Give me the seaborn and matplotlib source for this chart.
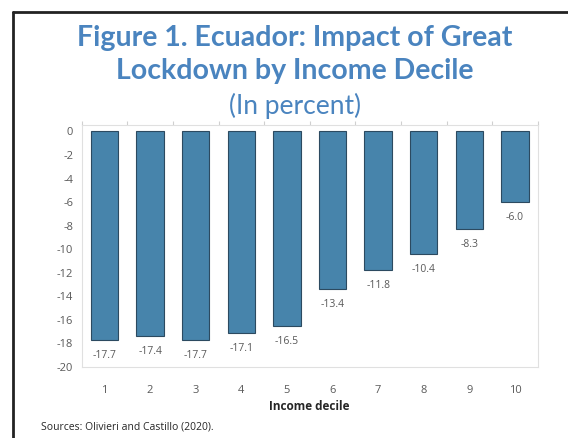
import numpy as np
import pandas as pd
import seaborn as sns
import matplotlib.pyplot as plt
from matplotlib.lines import Line2D

deciles = ["1", "2", "3", "4", "5", "6", "7", "8", "9", "10"]
impact = [-17.7, -17.4, -17.7, -17.1, -16.5, -13.4, -11.8, -10.4, -8.3, -6.0]
yticks = list(range(0, -21, -2))

title_color = "#4a84bf"
bar_color = "#4784ab"
text_gray = "#595959"

sns.set_style("white")
plt.rcParams['font.family'] = ['Open Sans', 'DejaVu Sans']

df = pd.DataFrame({"decile": deciles, "impact": impact})

fig = plt.figure(figsize=(5.68, 4.38), dpi=100)
ax = fig.add_axes([0.1438, 0.1628, 0.803, 0.5518])

sns.barplot(data=df, x="decile", y="impact", order=deciles, color=bar_color,
            width=0.6, saturation=1, edgecolor="#2c4a60", linewidth=0.8, ax=ax)

for i, v in enumerate(impact):
    ax.text(i, v - 0.85, "{:.1f}".format(v), ha="center", va="top",
            fontsize=7.5, color=text_gray)

ax.set_ylim(-20, 0.55)
ax.set_xlim(-0.5, 9.5)
ax.set_yticks(yticks)
ax.set_yticklabels([str(t) for t in yticks])
ax.set_xticks(np.arange(-0.5, 10, 1), minor=True)
ax.tick_params(axis="both", which="major", length=0, labelsize=8, labelcolor=text_gray)
ax.tick_params(axis="y", pad=6)
ax.tick_params(axis="x", pad=13)
ax.tick_params(axis="x", which="minor", bottom=False, top=True, direction="out",
               length=3, color="#d0d0d0", width=0.8)
for s in ax.spines.values():
    s.set_color("#e0e0e0")
    s.set_linewidth(0.8)

ax.set_xlabel("Income decile", fontsize=8.5, fontweight="bold", color="#262626", labelpad=3)
ax.set_ylabel("")

title_font = ['Lato', 'DejaVu Sans']
fig.text(0.519, 0.8957, "Figure 1. Ecuador: Impact of Great", ha="center", va="baseline",
         fontsize=20.5, fontweight="bold", color=title_color, family=title_font)
fig.text(0.519, 0.8196, "Lockdown by Income Decile", ha="center", va="baseline",
         fontsize=20.5, fontweight="bold", color=title_color, family=title_font)
fig.text(0.519, 0.7397, "(In percent)", ha="center", va="baseline",
         fontsize=19, color=title_color, family=title_font)
fig.text(0.072, 0.025, "Sources: Olivieri and Castillo (2020).", ha="left", va="center",
         fontsize=7.5, color="#262626")

# outer frame, left and top edges
fig.add_artist(Line2D([0.023, 0.023], [0, 0.973], color="#222222", lw=2))
fig.add_artist(Line2D([0.023, 1.0], [0.973, 0.973], color="#222222", lw=2))

plt.savefig("out.png", dpi=100)
